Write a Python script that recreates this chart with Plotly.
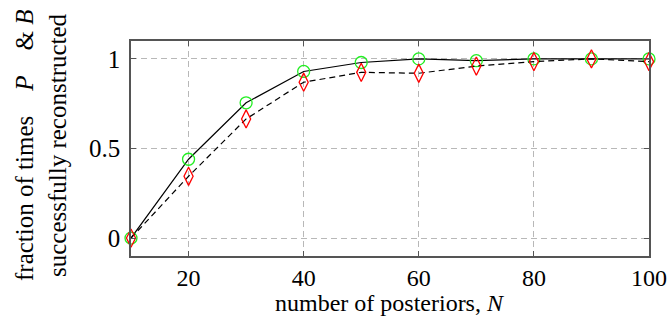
import plotly.graph_objects as go

N = [10, 20, 30, 40, 50, 60, 70, 80, 90, 100]
frac_circle = [0.0, 0.44, 0.755, 0.93, 0.98, 1.0, 0.99, 1.0, 1.0, 1.0]
frac_diamond = [0.0, 0.345, 0.665, 0.87, 0.925, 0.92, 0.96, 0.985, 1.0, 0.985]
x_ticks = [20, 40, 60, 80, 100]
y_ticks = [0, 0.5, 1]
y_tick_labels = ["0", "0.5", "1"]

font_family = "Liberation Serif, Times New Roman, Times, serif"
FS = 25
FS_X = 24

# page pixel geometry of the plot area
PL, PR, PT, PB = 131, 649, 41, 256
PW, PH = PR - PL, PB - PT


def px_x(px):
    return (px - PL) / PW


def px_y(py):
    return (PB - py) / PH


fig = go.Figure()
fig.add_trace(go.Scatter(
    x=N, y=frac_circle, mode="lines+markers",
    line=dict(color="black", width=1.2),
    marker=dict(symbol="circle-open", size=12, color="#22ee22", line=dict(width=1.3)),
    showlegend=False, cliponaxis=False))
fig.add_trace(go.Scatter(
    x=N, y=frac_diamond, mode="lines+markers",
    line=dict(color="black", width=1.2, dash="6px,4px"),
    marker=dict(symbol="diamond-tall-open", size=13, color="#ff0000", line=dict(width=1.3)),
    showlegend=False, cliponaxis=False))

axis_common = dict(
    showline=True, linecolor="#555555", linewidth=1.5, mirror="ticks",
    ticks="inside", ticklen=5, tickcolor="#555555", tickwidth=1,
    showgrid=True, gridcolor="#b8b8b8", gridwidth=1, griddash="6px,4px",
    zeroline=False, automargin=False,
)

fig.update_xaxes(range=[10, 100], tickvals=x_ticks, ticklabelstandoff=-1,
                 tickfont=dict(family=font_family, size=FS_X, color="black"),
                 **axis_common)
fig.update_yaxes(range=[-0.1, 1.1], tickvals=y_ticks, ticktext=y_tick_labels,
                 ticklabelstandoff=4,
                 tickfont=dict(family=font_family, size=FS, color="black"),
                 **axis_common)

title_font = dict(family=font_family, size=FS, color="black")
fig.add_annotation(
    text="number of posteriors, <i>N</i>",
    xref="paper", yref="paper", x=0.5, y=px_y(303),
    showarrow=False, xanchor="center", yanchor="middle",
    font=dict(family=font_family, size=FS_X, color="black"))
fig.add_annotation(
    text="fraction of times" + "&nbsp;" * 4 + "<i>P</i>" + "&nbsp;" * 4 + "&amp; <i>B</i>",
    xref="paper", yref="paper", x=px_x(24), y=px_y(283),
    textangle=-90, showarrow=False, xanchor="center", yanchor="bottom", font=title_font)
fig.add_annotation(
    text="successfully reconstructed",
    xref="paper", yref="paper", x=px_x(57), y=px_y(279),
    textangle=-90, showarrow=False, xanchor="center", yanchor="bottom", font=title_font)

fig.update_layout(
    width=670, height=324,
    margin=dict(l=PL, r=670 - PR, t=PT, b=324 - PB),
    plot_bgcolor="white", paper_bgcolor="white",
)

fig.write_html(
    "out.html",
    config={"displayModeBar": False},
    post_script="document.body.style.margin='0';"
                "document.documentElement.style.overflow='hidden';"
                "document.body.style.overflow='hidden';",
)
